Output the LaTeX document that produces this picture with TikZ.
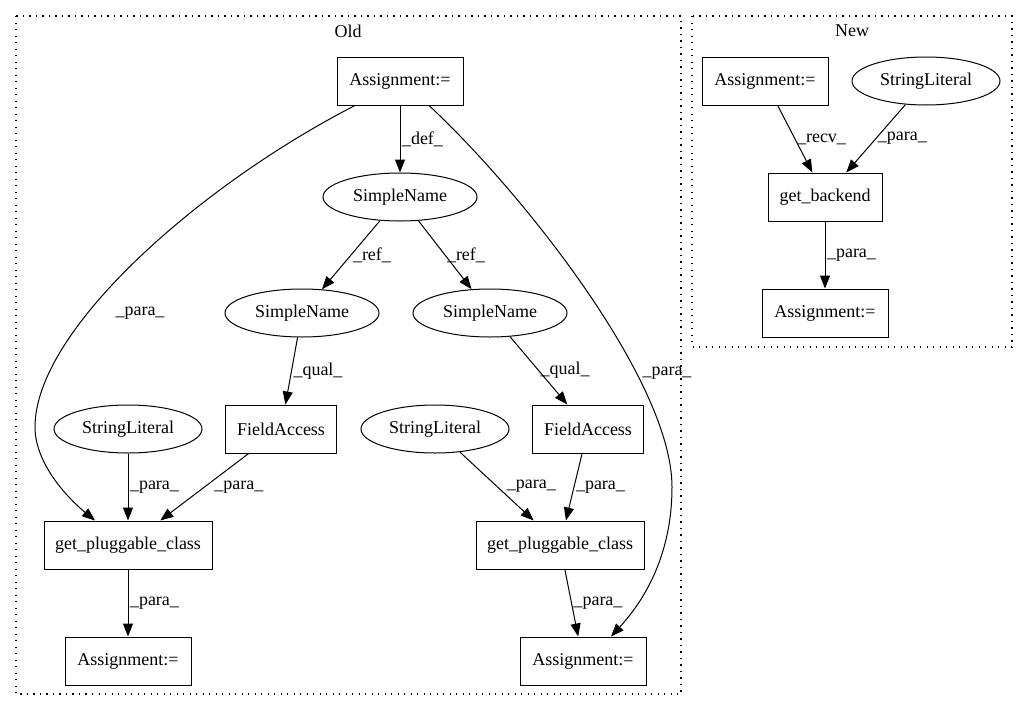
\documentclass[tikz,border=0pt]{standalone}
\usepackage{fontspec}
\setmainfont{Liberation Serif}
\usetikzlibrary{shapes.geometric,arrows.meta}
\tikzset{
  box/.style={draw,rectangle,minimum height=48pt,inner sep=0pt,line width=1pt},
  oval/.style={draw,ellipse,minimum height=48pt,inner sep=0pt,line width=1pt},
  edge label/.style={inner sep=1.5pt,anchor=west},
  flow/.style={-{Triangle[length=13pt,width=10pt]},line width=1pt},
  cluster/.style={line width=1.2pt,dash pattern=on 1.2pt off 5.3pt}
}
\def\boxW{126pt}
\def\nameW{154pt}
\def\litW{148pt}

\begin{document}
\begin{tikzpicture}[x=1pt,y=-1pt,font=\fontsize{18}{22}\selectfont]
\useasboundingbox (0,0) rectangle (1028,712);
% 枠の描画
\draw[cluster] (16,16) rectangle (681,694);
\draw[cluster] (692,16) rectangle (1012,347);
\node (old) at (348,31) {Old};
\node (new) at (852,31) {New};
% Old のノード
\node[box,minimum width=\boxW] (asgTop) at (400,81) {Assignment:=};
\node[oval,minimum width=\nameW] (snTop) at (400,197) {SimpleName};
\node[oval,minimum width=\nameW] (snL) at (302,313) {SimpleName};
\node[oval,minimum width=\nameW] (snR) at (490,313) {SimpleName};
\node[oval,minimum width=\litW] (slL) at (128,429) {StringLiteral};
\node[box,minimum width=111pt] (faL) at (281,429) {FieldAccess};
\node[oval,minimum width=\litW] (slR) at (435,429) {StringLiteral};
\node[box,minimum width=111pt] (faR) at (588,429) {FieldAccess};
\node[box,minimum width=168pt] (gpcL) at (128,545) {get\_pluggable\_class};
\node[box,minimum width=168pt] (gpcR) at (560,545) {get\_pluggable\_class};
\node[box,minimum width=\boxW] (asgL) at (128,661) {Assignment:=};
\node[box,minimum width=\boxW] (asgR) at (583,661) {Assignment:=};
% New のノード
\node[box,minimum width=\boxW] (newAsg) at (765,81) {Assignment:=};
\node[oval,minimum width=\litW] (newSl) at (926,81) {StringLiteral};
\node[box,minimum width=114pt] (backend) at (825,197) {get\_backend};
\node[box,minimum width=\boxW] (newRes) at (825,313) {Assignment:=};
% 矢印の描画
\draw[flow] (asgTop) -- node[edge label] {\_def\_} (snTop);
\draw[flow] (snTop) -- node[edge label] {\_ref\_} (snL);
\draw[flow] (snTop) -- node[edge label] {\_ref\_} (snR);
\draw[flow] (snL) -- node[edge label] {\_qual\_} (faL);
\draw[flow] (snR) -- node[edge label] {\_qual\_} (faR);
\draw[flow] (slL) -- node[edge label] {\_para\_} (gpcL);
\draw[flow] (faL) -- node[edge label,xshift=8pt] {\_para\_} (gpcL);
\draw[flow] (slR) -- node[edge label,xshift=8pt] {\_para\_} (gpcR);
\draw[flow] (faR) -- node[edge label] {\_para\_} (gpcR);
\draw[flow] (gpcL) -- node[edge label] {\_para\_} (asgL);
\draw[flow] (gpcR) -- node[edge label] {\_para\_} (asgR);
\draw[flow] ([xshift=-45pt]asgTop.south) .. controls (200,185) and (35,330) .. (35,427)
  .. controls (35,465) and (70,500) .. ([xshift=-33pt]gpcL.north);
\draw[flow] ([xshift=29pt]asgTop.south) .. controls (520,190) and (672,380) .. (672,487)
  .. controls (672,560) and (640,605) .. ([xshift=28pt]asgR.north);
\node (paraL) at (140,313) {\_para\_};
\node (paraR) at (667,373) {\_para\_};
\draw[flow] (newAsg) -- node[edge label] {\_recv\_} (backend);
\draw[flow] (newSl) -- node[edge label] {\_para\_} (backend);
\draw[flow] (backend) -- node[edge label] {\_para\_} (newRes);
\end{tikzpicture}
\end{document}
